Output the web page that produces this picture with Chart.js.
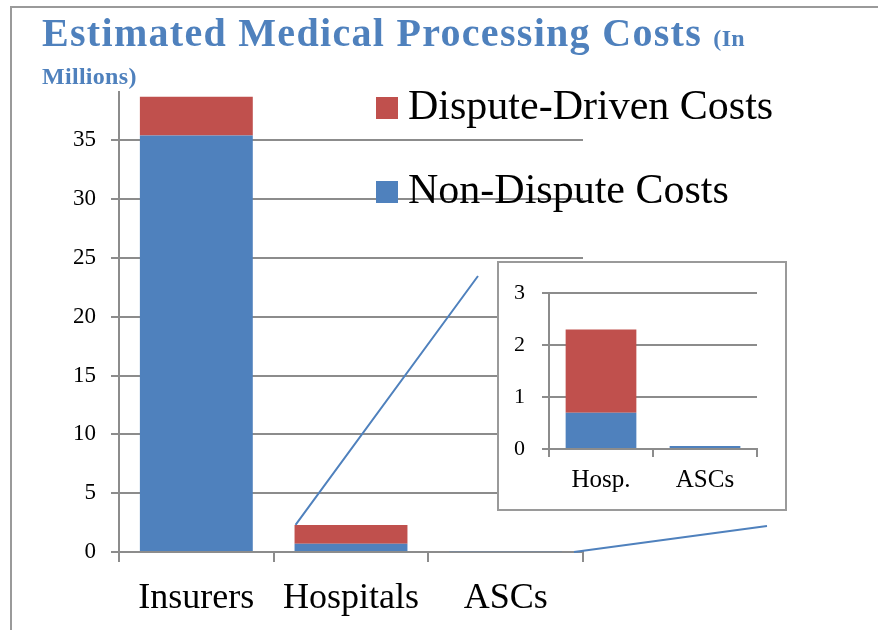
<!DOCTYPE html>
<html><head><meta charset="utf-8">
<script src="https://cdn.jsdelivr.net/npm/chart.js@4/dist/chart.umd.min.js"></script>
<style>
html,body{margin:0;padding:0;background:#fff;}
#page{position:relative;width:878px;height:630px;overflow:hidden;font-family:"Liberation Serif","Times New Roman",serif;}
#frame{position:absolute;left:10px;top:6px;width:900px;height:700px;border-left:2px solid #9a9a9a;border-top:2px solid #9a9a9a;}
#mainWrap{position:absolute;left:0;top:0;width:878px;height:630px;}
#title{position:absolute;left:42px;top:14px;color:#4F81BD;font-weight:bold;font-size:40px;line-height:38px;letter-spacing:1.3px;white-space:nowrap;}
#title span{font-size:24px;line-height:1;letter-spacing:0.3px;}
#legend .item{position:absolute;left:376px;font-size:42px;line-height:40px;white-space:nowrap;color:#000;}
#legend .sw{display:inline-block;width:22px;height:22px;margin-right:10px;vertical-align:baseline;}
#inset{position:absolute;left:497px;top:261px;width:290px;height:250px;box-sizing:border-box;border:2px solid #9a9a9a;background:#fff;}
#insetWrap{position:absolute;left:0;top:0;width:286px;height:246px;}
</style>
</head>
<body>
<div id="page">
  <div id="frame"></div>
  <div id="mainWrap"><canvas id="mainChart"></canvas></div>
  <div id="title">Estimated Medical Processing Costs <span>(In<br>Millions)</span></div>
  <div id="legend"></div>
  <div id="inset"><div id="insetWrap"><canvas id="insetChart"></canvas></div></div>
</div>
<script>
// ---- data ----
const categories = ['Insurers', 'Hospitals', 'ASCs'];
const nonDisputeCosts = [35.4, 0.7, 0.06];
const disputeDrivenCosts = [3.3, 1.6, 0.0];
const insetCategories = ['Hosp.', 'ASCs'];
const mainTickStep = 5;
const mainAxisMax = 39.1;
const insetTickStep = 1;
const insetAxisMax = 3;
const seriesNames = ['Non-Dispute Costs', 'Dispute-Driven Costs'];
const seriesColors = ['#4F81BD', '#C0504D'];

const FONT = '"Liberation Serif", "Times New Roman", serif';
const GRID = '#8c8c8c';

const connectorPlugin = {
  id: 'connectors',
  afterDatasetsDraw(chart) {
    const ctx = chart.ctx;
    const xs = chart.scales.x, ys = chart.scales.y;
    const box = document.getElementById('inset');
    const bl = box.offsetLeft, bt = box.offsetTop, bw = box.offsetWidth, bh = box.offsetHeight;
    const bar = chart.getDatasetMeta(1).data[1];
    const p = bar.getProps(['x', 'y', 'width'], true);
    ctx.save();
    ctx.strokeStyle = '#4F81BD';
    ctx.lineWidth = 2;
    ctx.beginPath();
    ctx.moveTo(p.x - p.width / 2 + 1, p.y);
    ctx.lineTo(bl - 19, bt + 15);
    ctx.moveTo(xs.right - 9, ys.getPixelForValue(0));
    ctx.lineTo(bl + bw - 20, bt + bh + 15);
    ctx.stroke();
    ctx.restore();
  }
};

function makeDatasets(nd, dd, pct) {
  return [
    { label: seriesNames[0], data: nd, backgroundColor: seriesColors[0], borderWidth: 0, barPercentage: pct, categoryPercentage: 1 },
    { label: seriesNames[1], data: dd, backgroundColor: seriesColors[1], borderWidth: 0, barPercentage: pct, categoryPercentage: 1 }
  ];
}

const mainChart = new Chart(document.getElementById('mainChart'), {
  type: 'bar',
  data: { labels: categories, datasets: makeDatasets(nonDisputeCosts, disputeDrivenCosts, 0.73) },
  options: {
    responsive: true, maintainAspectRatio: false, animation: false,
    layout: { padding: { top: 92, right: 295, left: 0, bottom: 0 } },
    plugins: { legend: { display: false }, tooltip: { enabled: false }, title: { display: false } },
    scales: {
      x: {
        stacked: true,
        grid: { offset: true, drawOnChartArea: false, drawTicks: true, tickLength: 10, color: GRID, lineWidth: 2 },
        border: { display: true, color: GRID, width: 2 },
        ticks: { color: '#000', font: { family: FONT, size: 36 }, padding: 15, maxRotation: 0 },
        afterFit(s) { s.height = 78; }
      },
      y: {
        stacked: true, min: 0, max: mainAxisMax,
        grid: { color: GRID, lineWidth: 2, drawTicks: true, tickLength: 8 },
        border: { display: true, color: GRID, width: 2 },
        ticks: { stepSize: mainTickStep, includeBounds: false, color: '#000', font: { family: FONT, size: 23 }, padding: 15 },
        afterFit(s) { s.width = 119; }
      }
    }
  },
  plugins: [connectorPlugin]
});

// HTML legend built from the datasets (reverse order, like the reference)
const legendEl = document.getElementById('legend');
const legendTops = [85, 169];
mainChart.data.datasets.slice().reverse().forEach((ds, i) => {
  const it = document.createElement('div');
  it.className = 'item';
  it.style.top = legendTops[i] + 'px';
  const sw = document.createElement('span');
  sw.className = 'sw';
  sw.style.background = ds.backgroundColor;
  it.appendChild(sw);
  it.appendChild(document.createTextNode(ds.label));
  legendEl.appendChild(it);
});

new Chart(document.getElementById('insetChart'), {
  type: 'bar',
  data: { labels: insetCategories, datasets: makeDatasets(nonDisputeCosts.slice(1), disputeDrivenCosts.slice(1), 0.68) },
  options: {
    responsive: true, maintainAspectRatio: false, animation: false,
    layout: { padding: { top: 27, right: 28, left: 0, bottom: 0 } },
    plugins: { legend: { display: false }, tooltip: { enabled: false } },
    scales: {
      x: {
        stacked: true,
        grid: { offset: true, drawOnChartArea: false, drawTicks: true, tickLength: 8, color: GRID, lineWidth: 2 },
        border: { display: true, color: GRID, width: 2 },
        ticks: { color: '#000', font: { family: FONT, size: 25 }, padding: 8, maxRotation: 0 },
        afterFit(s) { s.height = 60; }
      },
      y: {
        stacked: true, min: 0, max: insetAxisMax,
        grid: { color: GRID, lineWidth: 2, drawTicks: true, tickLength: 7 },
        border: { display: true, color: GRID, width: 2 },
        ticks: { stepSize: insetTickStep, color: '#000', font: { family: FONT, size: 22 }, padding: 17 },
        afterFit(s) { s.width = 50; }
      }
    }
  }
});
</script>
</body></html>
